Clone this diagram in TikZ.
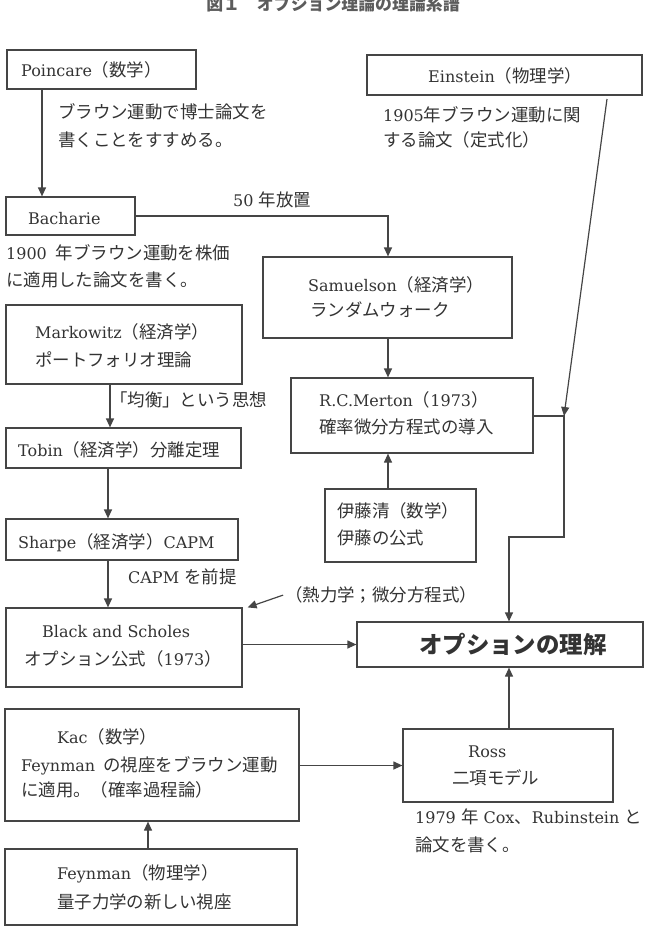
\documentclass[tikz,border=0pt]{standalone}
\usepackage{fontspec}
\setmainfont{DejaVu Serif}
\newfontfamily\jpfont{Noto Sans CJK JP}[Scale=1.09]
\usetikzlibrary{arrows.meta,calc,fit}
\definecolor{ink}{HTML}{333333}
\definecolor{rule}{HTML}{454545}
\newcommand\J[1]{{\jpfont #1}}

% multi-line labels are placed by the baseline of their last line
\tikzset{
  box/.style={draw=rule, line width=1.2pt, rectangle, inner sep=0pt},
  txt/.style={text=ink, inner sep=0pt, anchor=base west, align=left,
              font=\fontsize{16}{27}\selectfont},
  link/.style={draw=rule, line width=1.2pt, -{Triangle[width=8pt,length=9pt]}},
}

\begin{document}
\begin{tikzpicture}[x=1pt,y=-1pt]
\useasboundingbox (0,0) rectangle (657,946);

% title
\node[text=ink!80, inner sep=0pt, anchor=base, font=\fontsize{15.5}{18}\selectfont\jpfont\bfseries]
  (title) at (333,10) {図１　オプション理論の理論系譜};

% boxes
\node[box, fit={(7,50) (196,89)}]    (poincare)  {};
\node[box, fit={(367,55) (642,95)}]  (einstein)  {};
\node[box, fit={(6,197) (135,235)}]  (bacharie)  {};
\node[box, fit={(263,257) (512,338)}] (samuelson) {};
\node[box, fit={(6,305) (242,384)}]  (markowitz) {};
\node[box, fit={(291,378) (533,453)}] (merton)   {};
\node[box, fit={(6,428) (241,468)}]  (tobin)     {};
\node[box, fit={(325,489) (476,562)}] (ito)      {};
\node[box, fit={(6,519) (238,560)}]  (sharpe)    {};
\node[box, fit={(6,608) (242,687)}]  (bs)        {};
\node[box, fit={(357,622) (643,667)}] (option)   {};
\node[box, fit={(5,709) (299,821)}]  (kac)       {};
\node[box, fit={(403,729) (613,802)}] (ross)     {};
\node[box, fit={(5,849) (297,925)}]  (feynman)   {};

% texts
\node[txt] (tPoincare) at (21,76) {Poincare\J{（数学）}};
\node[txt] (nPoincare) at (58,146) {\J{ブラウン運動で博士論文を}\\[1pt]\J{書くことをすすめる。}};
\node[txt] (tEinstein) at (428,82) {Einstein\J{（物理学）}};
\node[txt] (nEinstein) at (383,146) {1905\J{年ブラウン運動に関}\\[-2pt]\J{する論文（定式化）}};
\node[txt] (tBacharie) at (28,224) {Bacharie};
\node[txt] (nGap) at (233,206) {50 \J{年放置}};
\node[txt] (nBacharie) at (6,286) {1900\hspace{9pt}\J{年ブラウン運動を株価}\\\J{に適用した論文を書く。}};
\node[txt] (tSamuelson) at (308,316) {Samuelson\J{（経済学）}\\[-2pt]\hspace*{2pt}\J{ランダムウォーク}};
\node[txt] (tMarkowitz) at (35,366) {Markowitz\J{（経済学）}\\[1pt]\J{ポートフォリオ理論}};
\node[txt] (nEq) at (110,406) {\J{「均衡」という思想}};
\node[txt] (tTobin) at (18,456) {Tobin\J{（経済学）分離定理}};
\node[txt] (tSharpe) at (18,548) {Sharpe\J{（経済学）}CAPM};
\node[txt] (tMerton) at (319,433) {R.C.Merton\J{（}1973\J{）}\\\J{確率微分方程式の導入}};
\node[txt] (tIto) at (337,544) {\J{伊藤清（数学）}\\\J{伊藤の公式}};
\node[txt] (nCapm) at (128,583) {CAPM \J{を前提}};
\node[txt] (heat) at (285,601) {\J{（熱力学；微分方程式）}};
\node[txt] (tBS) at (24,665) {\hspace*{18pt}Black and Scholes\\[1pt]\J{オプション公式（}1973\J{）}};
\node[txt, font=\fontsize{21.5}{26}\selectfont\bfseries] (tOption) at (419,653) {\J{オプションの理解}};
\node[txt] (tKac) at (21,796) {\hspace*{36pt}Kac\J{（数学）}\\[1pt]Feynman\hspace{8pt}\J{の視座をブラウン運動}\\[-2pt]\J{に適用。（確率過程論）}};
\node[txt] (tRoss) at (452,784) {\hspace*{16pt}Ross\\\J{二項モデル}};
\node[txt] (nRoss) at (415,851) {1979 \J{年} Cox\J{、}Rubinstein \J{と}\\[1pt]\J{論文を書く。}};
\node[txt] (tFeynman) at (57,908) {Feynman\J{（物理学）}\\[2pt]\J{量子力学の新しい視座}};

% helper points for the connectors
\coordinate (xA) at (42,0);
\coordinate (xS) at (388,0);
\coordinate (xM) at (110,0);
\coordinate (xT) at (108,0);
\coordinate (xO) at (509,0);
\coordinate (xF) at (148,0);
\coordinate (join) at (564,416);
\coordinate (elbowA) at (564,537);
\coordinate (elbowB) at (509,537);
\coordinate (einfoot) at (607,99);

% connectors
\draw[link] (poincare.south -| xA) -- (bacharie.north -| xA);
\draw[link] (bacharie.east) -| (samuelson.north -| xS);
\draw[link] (samuelson.south -| xS) -- (merton.north -| xS);
\draw[link] (ito.north -| xS) -- (merton.south -| xS);
\draw[link] (markowitz.south -| xM) -- (tobin.north -| xM);
\draw[link] (tobin.south -| xT) -- (sharpe.north -| xT);
\draw[link] (sharpe.south -| xT) -- (bs.north -| xT);
\draw[link] (merton.east |- join) -- (join) -- (elbowA) -- (elbowB) -- (option.north -| elbowB);
\draw[link] (einfoot) -- (join);
\draw[link] (bs.east |- option.west) -- (option.west);
\draw[link, shorten <=2pt] (heat.west) -- ($(bs.north east)+(5,0)$);
\draw[link] (kac.east |- ross.west) -- (ross.west);
\draw[link] (ross.north -| xO) -- (option.south -| xO);
\draw[link] (feynman.north -| xF) -- (kac.south -| xF);
\end{tikzpicture}
\end{document}
